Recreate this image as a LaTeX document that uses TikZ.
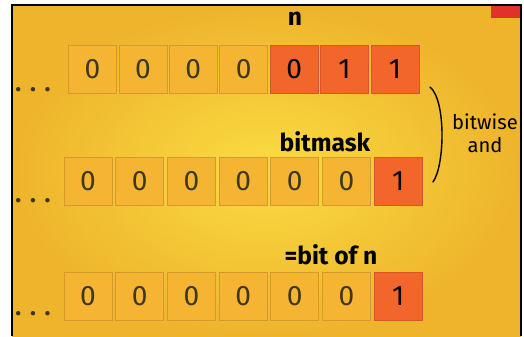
\documentclass[tikz,border=0pt]{standalone}
\usepackage{fontspec}
\setmainfont{Fira Sans}
\usetikzlibrary{positioning}
\definecolor{paper}{HTML}{EEB42C}
\definecolor{bright}{HTML}{FADC42}
\definecolor{cardfill}{HTML}{F5B532}
\definecolor{cardedge}{HTML}{D49A2C}
\definecolor{hotfill}{HTML}{F3662B}
\definecolor{hotedge}{HTML}{D9552A}
\definecolor{cornerred}{HTML}{E2302A}
\definecolor{ink}{HTML}{3E381E}
\begin{document}
\begin{tikzpicture}[x=0.02cm,y=-0.02cm,
  card/.style={draw=cardedge, fill=cardfill, minimum size=0.96cm, inner sep=0pt,
    text=ink, font=\fontsize{16}{16}\selectfont},
  hotcard/.style={card, draw=hotedge, fill=hotfill, text=black},
  tag/.style={font=\fontsize{14}{14}\selectfont\bfseries},
  note/.style={font=\fontsize{11.5}{13}\selectfont, align=center},
  more/.style={font=\fontsize{14}{14}\selectfont\bfseries, text=ink, inner sep=0pt}]
 \useasboundingbox (0,0) rectangle (524,336);
 \fill[white] (0,0) rectangle (524,336);
 \shade[inner color=bright, outer color=paper] (12,5) rectangle (521,336);
 \fill[cornerred] (491,5) rectangle (521,18);
 \draw[line width=1.6pt] (12,336) -- (12,5) -- (521,5) -- (521,336);
 % number n
 \foreach \b/\s [count=\i] in {0/card,0/card,0/card,0/card,0/hotcard,1/hotcard,1/hotcard}
  \node[\s] (n\i) at ({92.5+50.4*(\i-1)},69) {\b};
 % mask
 \foreach \b/\s [count=\i] in {0/card,0/card,0/card,0/card,0/card,0/card,1/hotcard}
  \node[\s] (m\i) at ({88+51.7*(\i-1)},181) {\b};
 % result
 \foreach \b/\s [count=\i] in {0/card,0/card,0/card,0/card,0/card,0/card,1/hotcard}
  \node[\s] (r\i) at ({88+51.7*(\i-1)},296) {\b};
 \node[more, anchor=base] (dn) at (33,91) {.\hspace{5pt}.\hspace{5pt}.};
 \node[more, anchor=base] (dm) at (33,202) {.\hspace{5pt}.\hspace{5pt}.};
 \node[more, anchor=base] (dr) at (33,315) {.\hspace{5pt}.\hspace{5pt}.};
 \node[tag] (labn) at (295,19) {n};
 \node[tag] (labm) at (325,142) {bitmask};
 \node[tag] (labr) at (331,255) {=bit of n};
 \node[note] (op) at (485,133) {bitwise\\and};
 \coordinate (bt) at (430,87);
 \coordinate (bb) at (433,182);
 \draw[thick, line cap=round] (bt) .. controls (446,100) and (445,165) .. (bb);
\end{tikzpicture}
\end{document}
